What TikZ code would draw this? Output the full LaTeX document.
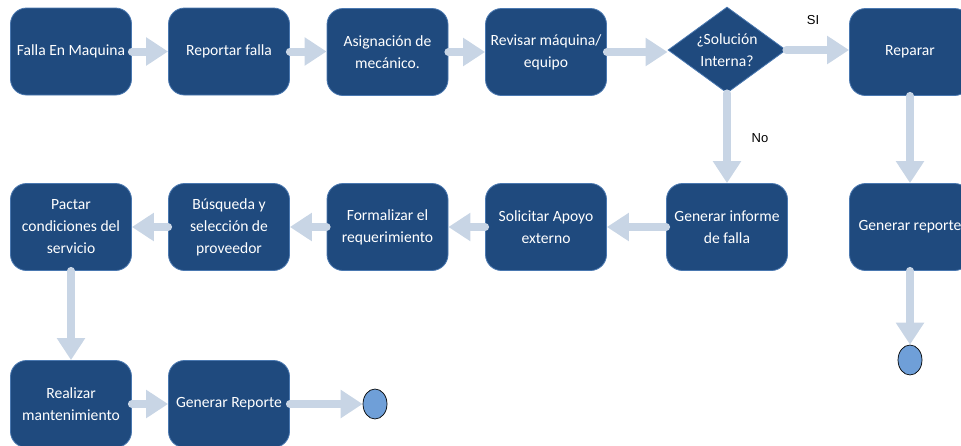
\documentclass[tikz,border=0pt]{standalone}
\usepackage{fontspec}
\setmainfont{Carlito}
\newfontfamily\labelfont{Liberation Sans}
\usetikzlibrary{arrows.meta,shapes.geometric}
\definecolor{boxfill}{HTML}{1F4A7E}
\definecolor{boxedge}{HTML}{4A78B0}
\definecolor{flow}{HTML}{C8D5E5}
\definecolor{endfill}{HTML}{6F9FD8}

\begin{document}
\begin{tikzpicture}[x=1pt,y=-1pt,
  stepbox/.style={draw=boxedge, line width=0.8pt, fill=boxfill, rounded corners=16pt,
    minimum width=121pt, minimum height=87pt, text=white, align=center,
    font=\fontsize{15.6}{22}\selectfont, inner sep=2pt},
  decision/.style={diamond, draw=boxedge, line width=0.8pt, fill=boxfill,
    minimum width=118pt, minimum height=86pt, inner sep=0pt},
  dtext/.style={text=white, align=center, font=\fontsize{15.6}{22}\selectfont},
  flowarrow/.style={draw=flow, line width=8pt, line cap=round,
    -{Triangle[width=27pt,length=22pt]}},
  endpoint/.style={ellipse, draw=black, line width=0.7pt, fill=endfill,
    minimum width=24pt, minimum height=30pt, inner sep=0pt},
  note/.style={font=\labelfont\fontsize{13}{15}\selectfont}
]
\useasboundingbox (0,0) rectangle (961,445);
\clip (0,0) rectangle (961,445);

% first row
\node[stepbox] (falla)   at (71,51.5)  {Falla En Maquina};
\node[stepbox] (reporta) at (229,51.5) {Reportar falla};
\node[stepbox] (asigna)  at (387.5,52) {Asignación de\\mecánico.};
\node[stepbox] (revisa)  at (546,52)   {Revisar máquina/\\equipo};
\node[decision] (sol)    at (727,50)   {};
\node[dtext] at (sol) {¿Solución\\Interna?};
\node[stepbox] (repara)  at (910,52)   {Reparar};

% second row
\node[stepbox] (pacta)   at (71,227)    {Pactar\\condiciones del\\servicio};
\node[stepbox] (busca)   at (229,227)   {Búsqueda y\\selección de\\proveedor};
\node[stepbox] (formal)  at (387.5,227) {Formalizar el\\requerimiento};
\node[stepbox] (solic)   at (546,227)   {Solicitar Apoyo\\externo};
\node[stepbox] (informe) at (727,227)   {Generar informe\\de falla};
\node[stepbox] (reporteA) at (910,227)  {Generar reporte};

% third row
\node[stepbox] (realiza) at (71,404)   {Realizar\\mantenimiento};
\node[stepbox] (reporteB) at (229,404) {Generar Reporte};

% end points
\node[endpoint] (finA) at (375,404) {};
\node[endpoint] (finB) at (910,360) {};

% branch labels
\node[note] at (813,20)  {SI};
\node[note] at (760,138) {No};

% connectors
\draw[flowarrow] (falla.east)   -- (reporta.west);
\draw[flowarrow] (reporta.east) -- (reporta.east -| asigna.west);
\draw[flowarrow] (asigna.east)  -- (revisa.west);
\draw[flowarrow] (revisa.east)  -- (revisa.east -| sol.west);
\draw[flowarrow] (sol.east)     -- (sol.east -| repara.west);
\draw[flowarrow] (sol.south)    -- (informe.north);
\draw[flowarrow] (repara.south) -- (reporteA.north);
\draw[flowarrow] (reporteA.south) -- (finB.north);
\draw[flowarrow] (informe.west) -- (solic.east);
\draw[flowarrow] (solic.west)   -- (formal.east);
\draw[flowarrow] (formal.west)  -- (busca.east);
\draw[flowarrow] (busca.west)   -- (pacta.east);
\draw[flowarrow] (pacta.south)  -- (realiza.north);
\draw[flowarrow] (realiza.east) -- (reporteB.west);
\draw[flowarrow] (reporteB.east) -- (finA.west);
\end{tikzpicture}
\end{document}
